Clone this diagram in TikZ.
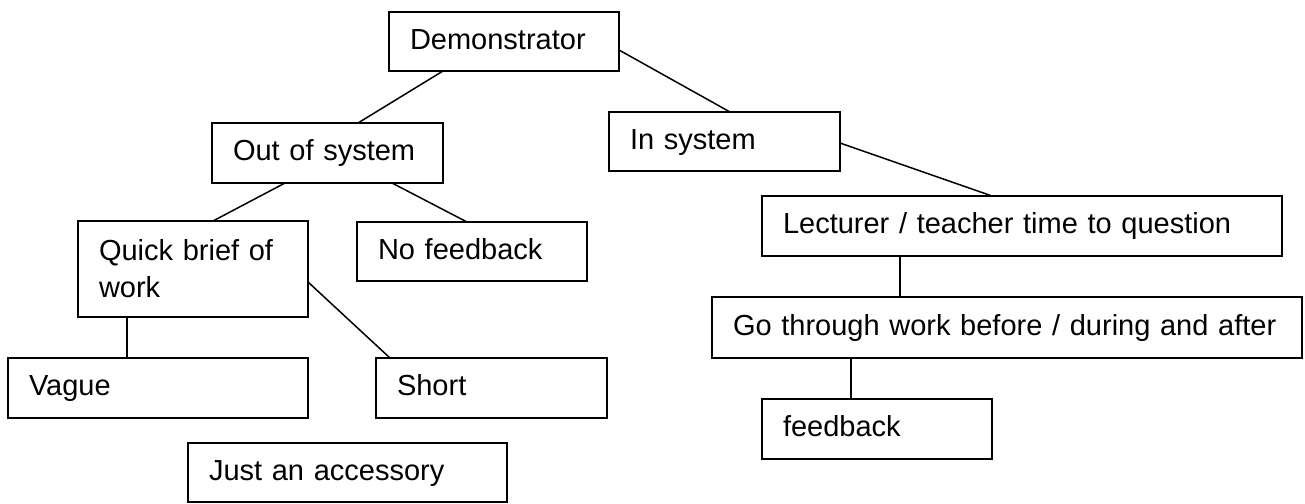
\documentclass[tikz,border=0pt]{standalone}
\usepackage{fontspec}
\setmainfont{Liberation Sans}
\usetikzlibrary{calc}
\begin{document}
\begin{tikzpicture}[x=1pt,y=-1pt,
  box/.style={draw, line width=1.6pt, rectangle, anchor=north west, outer sep=0pt,
    inner xsep=21pt, inner ysep=0pt, align=left,
    font=\fontsize{29}{37}\selectfont, text height=21pt, text depth=5.5pt},
  link/.style={line width=1.5pt}]
\useasboundingbox[fill=white] (0,0) rectangle (1305,503);

\node[box, minimum width=230pt, minimum height=59pt, text width=188pt] (demo) at (389,12) {Demonstrator};
\node[box, minimum width=231pt, minimum height=60pt, text width=189pt] (out) at (212,123) {Out of system};
\node[box, minimum width=231pt, minimum height=59pt, text width=189pt] (in) at (609,112) {In system};
\node[box, minimum width=520pt, minimum height=60pt, text width=478pt] (lect) at (762,196) {Lecturer / teacher time to question};
\node[box, minimum width=590pt, minimum height=61pt, text width=548pt] (go) at (712,297) {Go through work before / during and after};
\node[box, minimum width=230pt, minimum height=60pt, text width=188pt] (fb) at (762,399) {feedback};
\node[box, minimum width=230pt, minimum height=96pt, text width=188pt, text depth=39pt] (quick) at (78,221) {Quick brief of\\work};
\node[box, minimum width=230pt, minimum height=59pt, text width=188pt] (nf) at (357,222) {No feedback};
\node[box, minimum width=300pt, minimum height=60pt, text width=258pt] (vague) at (8,358) {Vague};
\node[box, minimum width=231pt, minimum height=60pt, text width=189pt] (short) at (376,358) {Short};
\node[box, minimum width=319pt, minimum height=59pt, text width=277pt] (just) at (188,443) {Just an accessory};

\draw[link] ($(demo.south west)+(54,0)$) -- ($(out.north west)+(146,0)$);
\draw[link] ($(demo.north east)+(0,38)$) -- ($(in.north west)+(121,0)$);
\draw[link] ($(in.north east)+(0,31)$) -- ($(lect.north west)+(230,0)$);
\draw[link] ($(lect.south west)+(138,0)$) -- ($(go.north west)+(188,0)$);
\draw[link] ($(go.south west)+(139,0)$) -- ($(fb.north west)+(89,0)$);
\draw[link] ($(out.south west)+(73,0)$) -- ($(quick.north west)+(135,0)$);
\draw[link] ($(out.south west)+(180,0)$) -- ($(nf.north west)+(110,0)$);
\draw[link] ($(quick.south west)+(49,0)$) -- ($(vague.north west)+(119,0)$);
\draw[link] ($(quick.north east)+(0,61)$) -- ($(short.north west)+(14,0)$);
\end{tikzpicture}
\end{document}
